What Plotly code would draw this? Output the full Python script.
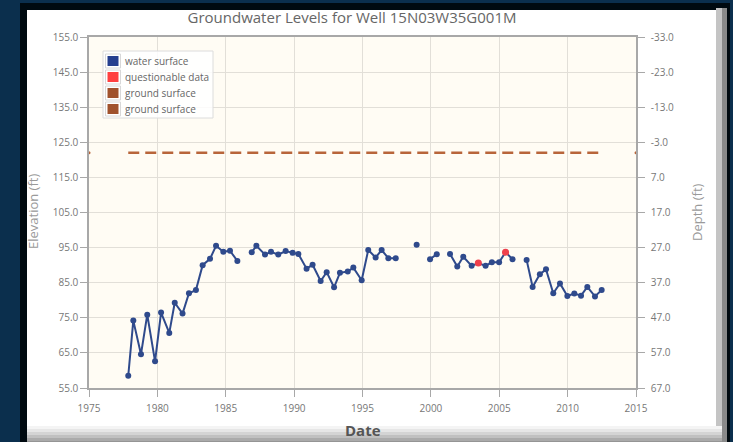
import plotly.graph_objects as go

# ---------------- data ----------------
water_dates = [1977.87, 1978.24, 1978.80, 1979.26, 1979.83, 1980.27, 1980.87, 1981.27,
               1981.84, 1982.31, 1982.82, 1983.31, 1983.85, 1984.29, 1984.82, 1985.31,
               1985.85, None,
               1986.90, 1987.24, 1987.87, 1988.31, 1988.84, 1989.38, 1989.89, 1990.31,
               1990.91, 1991.35, 1991.94, 1992.38, 1992.92, 1993.35, 1993.92, 1994.33,
               1994.94, 1995.42, 1995.96, 1996.40, 1996.89, 1997.43, None,
               1998.96, None,
               1999.94, 2000.43, None,
               2001.40, 2001.93, 2002.37, 2002.98, 2003.47, 2004.00, 2004.46, 2004.99,
               2005.46, 2005.97, None,
               2007.00, 2007.44, 2007.97, 2008.42, 2008.95, 2009.44, 2009.98, 2010.49,
               2010.98, 2011.44, 2012.00, 2012.49]
water_elev = [58.5, 74.2, 64.6, 75.9, 62.6, 76.5, 70.7, 79.3,
              76.2, 82.0, 82.9, 90.0, 91.8, 95.5, 93.8, 94.1,
              91.2, None,
              93.7, 95.5, 93.0, 93.8, 93.0, 94.0, 93.5, 93.2,
              89.0, 90.1, 85.5, 88.0, 83.7, 87.8, 88.2, 89.3,
              85.7, 94.3, 92.2, 94.3, 92.0, 92.0, None,
              95.8, None,
              91.7, 93.1, None,
              93.2, 89.6, 92.4, 89.8, 90.6, 89.8, 90.8, 90.8,
              93.7, 91.7, None,
              91.5, 83.8, 87.4, 88.8, 82.0, 84.8, 81.2, 81.9,
              81.3, 83.8, 81.1, 82.9]

questionable_dates = [2003.47, 2005.46]
questionable_elev = [90.6, 93.7]

ground_dates = [1977.87, 2012.49]
ground_elev = [122.0, 122.0]

ground_depth_dates = [1975.0, 2015.0]
ground_depth = [0.0, 0.0]

elev_ticks = [55, 65, 75, 85, 95, 105, 115, 125, 135, 145, 155]
depth_ticks = [67, 57, 47, 37, 27, 17, 7, -3, -13, -23, -33]
year_ticks = [1975, 1980, 1985, 1990, 1995, 2000, 2005, 2010, 2015]

legend_names = ["water surface", "questionable data", "ground surface", "ground surface"]
legend_colors = ["#253f8f", "#ff4040", "#a0522d", "#a0522d"]

# ---------------- styling ----------------
W, H = 733, 442
L, R, T, B = 89, 636, 37, 388  # plot area in pixels
BLUE = "#2f4a8c"
RED = "#f0404c"
DASH_BROWN = "#b8653a"
NAVY = "#0b2f4d"
FONT = "Open Sans"


def px(x):
    return (x - L) / (R - L)


def py(y):
    return (B - y) / (B - T)


fig = go.Figure()

fig.add_trace(go.Scatter(
    x=water_dates, y=water_elev, mode="lines+markers", name=legend_names[0],
    line=dict(color=BLUE, width=2), marker=dict(color=BLUE, size=6),
    connectgaps=False))
fig.add_trace(go.Scatter(
    x=questionable_dates, y=questionable_elev, mode="markers", name=legend_names[1],
    marker=dict(color=RED, size=7)))
fig.add_trace(go.Scatter(
    x=ground_dates, y=ground_elev, mode="lines", name=legend_names[2],
    line=dict(color=DASH_BROWN, width=2.5, dash="11px,6px")))
fig.add_trace(go.Scatter(
    x=ground_depth_dates, y=ground_depth, mode="markers", name=legend_names[3],
    marker=dict(color=DASH_BROWN, size=3), yaxis="y2", cliponaxis=False))

shapes = [
    dict(type="rect", xref="paper", yref="paper", x0=px(20), x1=px(730), y0=py(3), y1=py(443),
         fillcolor="#000a10", line=dict(width=0), layer="below"),
    dict(type="rect", xref="paper", yref="paper", x0=px(716), x1=px(727), y0=py(8), y1=py(443),
         fillcolor="#8a8a8a", line=dict(width=0), layer="below"),
    dict(type="rect", xref="paper", yref="paper", x0=px(716), x1=px(722), y0=py(8), y1=py(443),
         fillcolor="#c4c4c4", line=dict(width=0), layer="below"),
    dict(type="rect", xref="paper", yref="paper", x0=px(27), x1=px(716), y0=py(10), y1=py(443),
         fillcolor="#ffffff", line=dict(width=0), layer="below"),
]
for i, c in enumerate(["#f4f4f4", "#e6e6e6", "#d4d4d4", "#c0c0c0", "#aaaaaa", "#959595"]):
    y0 = 426 + i * 3
    shapes.append(dict(type="rect", xref="paper", yref="paper", x0=px(27), x1=px(722),
                       y0=py(y0), y1=py(y0 + 3), fillcolor=c, line=dict(width=0), layer="below"))
shapes.append(dict(type="rect", xref="paper", yref="paper", x0=0, x1=1, y0=0, y1=1,
                   fillcolor="#fffcf4", line=dict(width=0), layer="below"))

annotations = [
    dict(text="Elevation (ft)", xref="paper", yref="paper", x=px(33), y=py(212),
         xanchor="center", yanchor="middle",
         showarrow=False, textangle=-90, font=dict(family=FONT, size=13, color="#9a9a9a")),
    dict(text="Depth (ft)", xref="paper", yref="paper", x=px(697), y=py(212),
         xanchor="center", yanchor="middle",
         showarrow=False, textangle=-90, font=dict(family=FONT, size=13, color="#9a9a9a")),
    dict(text="<b>Date</b>", xref="paper", yref="paper", x=px(363), y=py(430),
         xanchor="center", yanchor="middle",
         showarrow=False, font=dict(family=FONT, size=15, color="#555555")),
]

# legend box (drawn on top of the plot, like the original's inner legend)
shapes.append(dict(type="rect", xref="paper", yref="paper", x0=px(103), x1=px(213),
                   y0=py(51), y1=py(118), fillcolor="rgba(255,255,255,0.85)",
                   line=dict(color="#dcdcdc", width=1), layer="above"))
for i, (name, col) in enumerate(zip(legend_names, legend_colors)):
    cy = 61 + 16 * i
    shapes.append(dict(type="rect", xref="paper", yref="paper", x0=px(105.5), x1=px(120.5),
                       y0=py(cy - 7), y1=py(cy + 7), fillcolor="#ffffff",
                       line=dict(color="#d8d8d8", width=1), layer="above"))
    shapes.append(dict(type="rect", xref="paper", yref="paper", x0=px(107.5), x1=px(118.5),
                       y0=py(cy - 5), y1=py(cy + 5), fillcolor=col,
                       line=dict(width=0), layer="above"))
    annotations.append(dict(text=name, xref="paper", yref="paper", x=px(123), y=py(cy),
                            xanchor="left", yanchor="middle", showarrow=False,
                            font=dict(family=FONT, size=10, color="#666666")))

axis_common = dict(
    showline=True, linecolor="#a8a8a8", linewidth=1.5,
    ticks="outside", ticklen=7, tickcolor="#a8a8a8",
    tickfont=dict(family=FONT, size=10, color="#777777"),
    zeroline=False,
)

fig.update_layout(
    width=W, height=H,
    margin=dict(l=L, r=W - R, t=T, b=H - B, pad=0),
    paper_bgcolor=NAVY,
    plot_bgcolor="#fffcf4",
    title=dict(text="Groundwater Levels for Well 15N03W35G001M",
               x=px(352), xref="paper", xanchor="center",
               y=1 - 18 / H, yref="container", yanchor="middle",
               font=dict(family=FONT, size=15, color="#666666")),
    xaxis=dict(range=[1975, 2015], tickvals=year_ticks, ticktext=[str(v) for v in year_ticks],
               showgrid=True, gridcolor="#e2dfd8", gridwidth=1, mirror=True,
               ticklabelstandoff=3, **axis_common),
    yaxis=dict(range=[55, 155], tickvals=elev_ticks, ticktext=[f"{v:.1f}" for v in elev_ticks],
               showgrid=True, gridcolor="#e2dfd8", gridwidth=1, mirror=True, **axis_common),
    yaxis2=dict(range=[67, -33], overlaying="y", side="right", tickvals=depth_ticks,
                ticktext=[f"{v:.1f}" for v in depth_ticks], showgrid=False,
                ticklabelstandoff=4, **axis_common),
    shapes=shapes,
    annotations=annotations,
    showlegend=False,
)

fig.write_html(
    "out.html",
    config={"displayModeBar": False},
    post_script=("document.body.style.margin='0px';"
                 "document.body.style.background='" + NAVY + "';"
                 "document.body.style.overflow='hidden';"),
)
